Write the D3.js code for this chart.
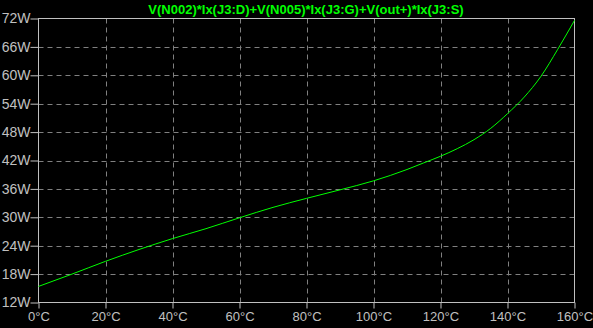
<!DOCTYPE html>
<html>
<head>
<meta charset="utf-8">
<script src="https://cdn.jsdelivr.net/npm/d3@7"></script>
<style>
body{margin:0;background:#000;}
svg{display:block;}
</style>
</head>
<body>
<script>
// temperature sweep (°C) and power (W)
var temps=[0,10,20,30,40,50,60,70,80,90,100,110,115,120,125,130,135,140,145,150,155,160]
var watts=[15.4,18.0,20.7,23.2,25.5,27.6,29.9,32.1,34.0,35.8,37.7,40.1,41.5,42.9,44.5,46.4,48.8,51.9,55.4,59.8,65.5,71.6]
var yTicks=[12,18,24,30,36,42,48,54,60,66,72]
var xTicks=[0,20,40,60,80,100,120,140,160]
var title="V(N002)*Ix(J3:D)+V(N005)*Ix(J3:G)+V(out+)*Ix(J3:S)"

var width=593, height=328
var m={left:38.5,right:18.5,top:18.5,bottom:25.5}

var svg=d3.select("body").append("svg")
  .attr("width",width).attr("height",height)
  .style("background","#000")

var x=d3.scaleLinear().domain([0,160]).range([m.left,width-m.right])
var y=d3.scaleLinear().domain([12,72]).range([height-m.bottom,m.top])

var font="'Liberation Sans',Arial,sans-serif"

// grid
svg.append("g").selectAll("line").data(yTicks.slice(1,-1)).enter().append("line")
  .attr("x1",m.left).attr("x2",width-m.right)
  .attr("y1",function(d){return Math.round(y(d))+0.5}).attr("y2",function(d){return Math.round(y(d))+0.5})
  .attr("stroke","#808080").attr("stroke-dasharray","5,4")
svg.append("g").selectAll("line").data(xTicks.slice(1,-1)).enter().append("line")
  .attr("y1",m.top).attr("y2",height-m.bottom)
  .attr("x1",function(d){return Math.round(x(d))+0.5}).attr("x2",function(d){return Math.round(x(d))+0.5})
  .attr("stroke","#808080").attr("stroke-dasharray","5,4")

// box
svg.append("rect").attr("x",m.left).attr("y",m.top)
  .attr("width",width-m.left-m.right).attr("height",height-m.top-m.bottom)
  .attr("fill","none").attr("stroke","#c0c0c0")

// axes
var yAxis=d3.axisLeft(y).tickValues(yTicks).tickSize(8).tickPadding(0)
  .tickFormat(function(d){return d+"W"})
var xAxis=d3.axisBottom(x).tickValues(xTicks).tickSize(6).tickPadding(3)
  .tickFormat(function(d){return d+"°C"})

var gy=svg.append("g").attr("transform","translate("+m.left+",0)").call(yAxis)
var gx=svg.append("g").attr("transform","translate(0,"+(height-m.bottom)+")").call(xAxis)
;[gx,gy].forEach(function(g){
  g.select(".domain").remove()
  g.selectAll("line").attr("stroke","#c0c0c0")
  g.selectAll("text").attr("fill","#c0c0c0").style("font-family",font).style("font-size","14px")
})
gx.selectAll("text").style("font-size","13px")

// curve
var line=d3.line().x(function(d){return x(d)}).y(function(d,i){return y(watts[i])}).curve(d3.curveMonotoneX)
svg.append("path").datum(temps).attr("d",line)
  .attr("fill","none").attr("stroke","#00ff00").attr("stroke-width",1)

// title
svg.append("text").attr("x",306).attr("y",14).attr("text-anchor","middle")
  .attr("fill","#00ff00").style("font-family",font).style("font-size","13px").style("font-weight","bold")
  .text(title)
</script>
</body>
</html>
